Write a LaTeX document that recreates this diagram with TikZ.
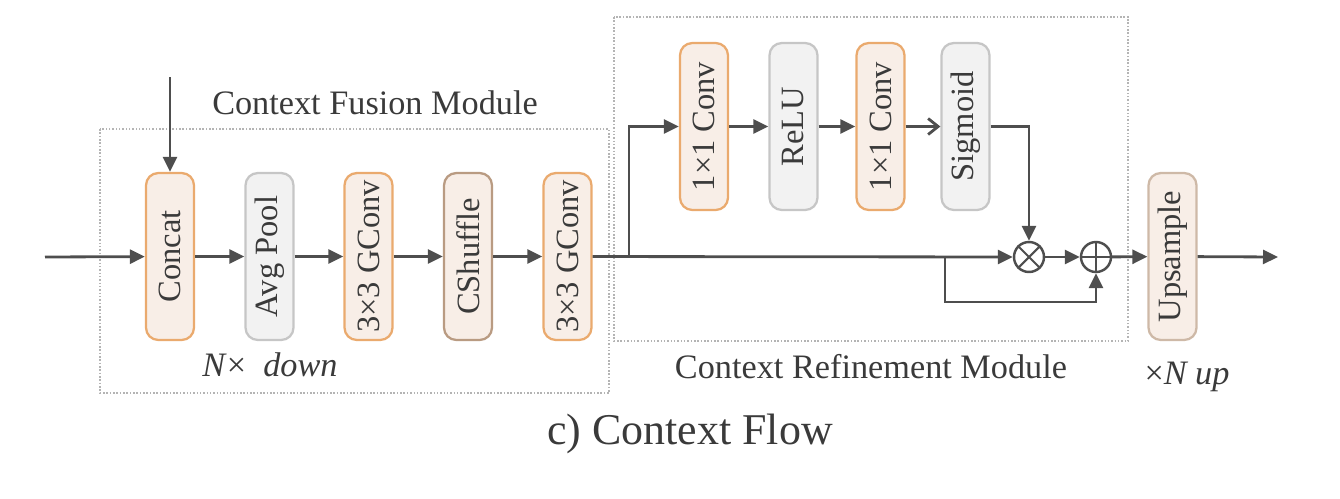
\documentclass[tikz,border=0pt]{standalone}
\usepackage{fontspec}
\setmainfont{Liberation Serif}
\usetikzlibrary{arrows.meta}

\definecolor{lineg}{HTML}{4E4E4E}
\definecolor{txtg}{HTML}{3A3A3A}
\definecolor{orgb}{HTML}{EAAA6E}
\definecolor{orgf}{HTML}{F8EEE7}
\definecolor{grayb}{HTML}{C6C6C6}
\definecolor{grayf}{HTML}{F2F2F2}
\definecolor{mixb}{HTML}{B99B82}
\definecolor{boxg}{HTML}{B4B4B4}

\tikzset{
  blk/.style={rounded corners=7pt, rotate=90, minimum width=3.34cm, minimum height=0.96cm,
    inner sep=0pt, line width=1.3pt, font=\fontsize{18.5}{20}\selectfont, text=txtg},
  oblk/.style={blk, draw=orgb, fill=orgf},
  gblk/.style={blk, draw=grayb, fill=grayf},
  mblk/.style={blk, draw=mixb, fill=orgf},
  flow/.style={draw=lineg, line width=1.6pt, -{Triangle[length=0.3cm,width=0.28cm]}},
  modbox/.style={draw=boxg, densely dotted, line width=0.9pt},
  opnode/.style={circle, draw=lineg, line width=1.4pt, minimum size=0.6cm, inner sep=0pt},
  lbl/.style={font=\fontsize{19.5}{22}\selectfont, text=txtg}
}

\begin{document}
\begin{tikzpicture}[x=0.02cm,y=-0.02cm]
\useasboundingbox (0,0) rectangle (1340,498);

% module frames
\draw[modbox] (100,129) rectangle (609,393);
\draw[modbox] (614,17) rectangle (1128,341);

\node[lbl] (fusion) at (375,103) {Context Fusion Module};
\node[lbl] (down) at (270,365) {\textit{N}× \ \textit{down}};
\node[lbl] (refine) at (871,367) {Context Refinement Module};
\node[lbl] (upn) at (1187,377) {×\textit{N up}};
\node[lbl, font=\fontsize{25}{28}\selectfont] (title) at (690,434) {c) Context Flow};

% fusion blocks
\node[oblk] (concat) at (170,256.5) {Concat};
\node[gblk] (avg) at (269.5,256.5) {Avg Pool};
\node[oblk] (gconva) at (368.5,256.5) {3×3 GConv};
\node[mblk] (shuf) at (468,256.5) {CShuffle};
\node[oblk] (gconvb) at (567.5,256.5) {3×3 GConv};

% refinement blocks
\node[oblk] (conva) at (704,126.5) {1×1 Conv};
\node[gblk] (relu) at (793.5,126.5) {ReLU};
\node[oblk] (convb) at (880.5,126.5) {1×1 Conv};
\node[gblk] (sig) at (965.5,126.5) {Sigmoid};

\node[opnode] (mul) at (1029,257) {};
\node[opnode] (add) at (1096,257) {};
\draw[lineg, line width=1.2pt] (mul.north east) -- (mul.south west) (mul.north west) -- (mul.south east);
\draw[lineg, line width=1.2pt] (add.north) -- (add.south) (add.west) -- (add.east);

\node[mblk, draw=mixb!70] (ups) at (1172.5,256.5) {Upsample};

\coordinate (in) at (45,257);
\coordinate (top) at (170,77);
\coordinate (br) at (629,257);
\coordinate (sk) at (945,257);
\coordinate (out) at (1278,257);

% connectors
\draw[flow] (in) -- (concat);
\draw[flow] (top) -- (concat);
\draw[flow] (concat) -- (avg);
\draw[flow] (avg) -- (gconva);
\draw[flow] (gconva) -- (shuf);
\draw[flow] (shuf) -- (gconvb);
\draw[flow] (gconvb) -- (mul);
\draw[flow] (br) |- (conva);
\draw[flow] (conva) -- (relu);
\draw[flow] (relu) -- (convb);
\draw[flow, -{Straight Barb[length=0.2cm,width=0.32cm]}] (convb) -- (sig);
\draw[flow] (sig) -| (mul);
\draw[flow] (sk) -- ++(0,45) -| (add);
\draw[flow] (mul) -- (add);
\draw[flow] (add) -- (ups);
\draw[flow] (ups) -- (out);
\end{tikzpicture}
\end{document}
